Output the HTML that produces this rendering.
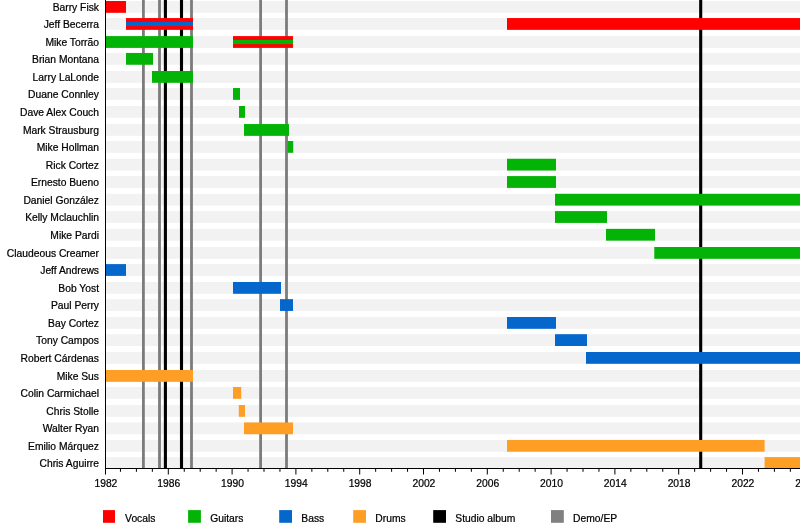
<!DOCTYPE html><html><head><meta charset="utf-8"><style>html,body{margin:0;padding:0;background:#fff}svg{display:block;will-change:transform}text{font-family:"Liberation Sans",sans-serif;fill:#000;stroke:#000;stroke-width:0.22px}</style></head><body>
<svg width="800" height="528" viewBox="0 0 800 528">
<rect width="800" height="528" fill="#fff"/>
<rect x="106" y="1.00" width="694" height="11.8" fill="#f2f2f2"/>
<rect x="106" y="18.05" width="694" height="11.8" fill="#f2f2f2"/>
<rect x="106" y="36.10" width="694" height="11.8" fill="#f2f2f2"/>
<rect x="106" y="52.95" width="694" height="11.8" fill="#f2f2f2"/>
<rect x="106" y="71.00" width="694" height="11.8" fill="#f2f2f2"/>
<rect x="106" y="88.05" width="694" height="11.8" fill="#f2f2f2"/>
<rect x="106" y="106.00" width="694" height="11.8" fill="#f2f2f2"/>
<rect x="106" y="124.05" width="694" height="11.8" fill="#f2f2f2"/>
<rect x="106" y="141.00" width="694" height="11.8" fill="#f2f2f2"/>
<rect x="106" y="158.75" width="694" height="11.8" fill="#f2f2f2"/>
<rect x="106" y="176.10" width="694" height="11.8" fill="#f2f2f2"/>
<rect x="106" y="193.80" width="694" height="11.8" fill="#f2f2f2"/>
<rect x="106" y="211.10" width="694" height="11.8" fill="#f2f2f2"/>
<rect x="106" y="228.85" width="694" height="11.8" fill="#f2f2f2"/>
<rect x="106" y="247.00" width="694" height="11.8" fill="#f2f2f2"/>
<rect x="106" y="264.10" width="694" height="11.8" fill="#f2f2f2"/>
<rect x="106" y="282.00" width="694" height="11.8" fill="#f2f2f2"/>
<rect x="106" y="299.15" width="694" height="11.8" fill="#f2f2f2"/>
<rect x="106" y="317.00" width="694" height="11.8" fill="#f2f2f2"/>
<rect x="106" y="334.20" width="694" height="11.8" fill="#f2f2f2"/>
<rect x="106" y="352.00" width="694" height="11.8" fill="#f2f2f2"/>
<rect x="106" y="370.00" width="694" height="11.8" fill="#f2f2f2"/>
<rect x="106" y="387.00" width="694" height="11.8" fill="#f2f2f2"/>
<rect x="106" y="405.00" width="694" height="11.8" fill="#f2f2f2"/>
<rect x="106" y="422.45" width="694" height="11.8" fill="#f2f2f2"/>
<rect x="106" y="439.95" width="694" height="11.8" fill="#f2f2f2"/>
<rect x="106" y="457.10" width="694" height="11.8" fill="#f2f2f2"/>
<rect x="142.00" y="0" width="2.8" height="468.5" fill="#7c7c7c"/>
<rect x="158.10" y="0" width="2.8" height="468.5" fill="#7c7c7c"/>
<rect x="163.85" y="0" width="3.1" height="468.5" fill="#000"/>
<rect x="179.95" y="0" width="3.1" height="468.5" fill="#000"/>
<rect x="190.10" y="0" width="2.8" height="468.5" fill="#7c7c7c"/>
<rect x="259.20" y="0" width="2.8" height="468.5" fill="#7c7c7c"/>
<rect x="285.10" y="0" width="2.8" height="468.5" fill="#7c7c7c"/>
<rect x="699.15" y="0" width="3.1" height="468.5" fill="#000"/>
<rect x="106" y="1.00" width="20.00" height="11.8" fill="#ff0000"/>
<rect x="126" y="18.05" width="67.00" height="11.8" fill="#ff0000"/>
<rect x="126" y="21.85" width="67.00" height="4.2" fill="#0566cc"/>
<rect x="507" y="18.05" width="293.00" height="11.8" fill="#ff0000"/>
<rect x="106" y="36.10" width="87.00" height="11.8" fill="#03b305"/>
<rect x="233" y="36.10" width="60.00" height="11.8" fill="#ff0000"/>
<rect x="233" y="39.90" width="60.00" height="4.2" fill="#03b305"/>
<rect x="126" y="52.95" width="27.00" height="11.8" fill="#03b305"/>
<rect x="152" y="71.00" width="41.00" height="11.8" fill="#03b305"/>
<rect x="233" y="88.05" width="7.00" height="11.8" fill="#03b305"/>
<rect x="239" y="106.00" width="6.00" height="11.8" fill="#03b305"/>
<rect x="244" y="124.05" width="45.00" height="11.8" fill="#03b305"/>
<rect x="287.5" y="141.00" width="5.70" height="11.8" fill="#03b305"/>
<rect x="507" y="158.75" width="49.00" height="11.8" fill="#03b305"/>
<rect x="507" y="176.10" width="49.00" height="11.8" fill="#03b305"/>
<rect x="555" y="193.80" width="245.00" height="11.8" fill="#03b305"/>
<rect x="555" y="211.10" width="52.00" height="11.8" fill="#03b305"/>
<rect x="606" y="228.85" width="49.00" height="11.8" fill="#03b305"/>
<rect x="654.3" y="247.00" width="145.70" height="11.8" fill="#03b305"/>
<rect x="106" y="264.10" width="20.00" height="11.8" fill="#0566cc"/>
<rect x="233" y="282.00" width="48.00" height="11.8" fill="#0566cc"/>
<rect x="280" y="299.15" width="13.00" height="11.8" fill="#0566cc"/>
<rect x="507" y="317.00" width="49.00" height="11.8" fill="#0566cc"/>
<rect x="555" y="334.20" width="32.00" height="11.8" fill="#0566cc"/>
<rect x="586" y="352.00" width="214.00" height="11.8" fill="#0566cc"/>
<rect x="106" y="370.00" width="87.00" height="11.8" fill="#ff9e24"/>
<rect x="233" y="387.00" width="8.20" height="11.8" fill="#ff9e24"/>
<rect x="238.8" y="405.00" width="6.20" height="11.8" fill="#ff9e24"/>
<rect x="244" y="422.45" width="49.00" height="11.8" fill="#ff9e24"/>
<rect x="507" y="439.95" width="257.60" height="11.8" fill="#ff9e24"/>
<rect x="764.6" y="457.10" width="35.40" height="11.8" fill="#ff9e24"/>
<rect x="105" y="0" width="1" height="469" fill="#000"/>
<rect x="105" y="468" width="695" height="1" fill="#000"/>
<rect x="105.00" y="468" width="1" height="6.5" fill="#000"/>
<text x="105.90" y="487" font-size="10.3" text-anchor="middle">1982</text>
<rect x="119.95" y="468" width="1" height="3.8" fill="#000"/>
<rect x="135.90" y="468" width="1" height="3.8" fill="#000"/>
<rect x="151.85" y="468" width="1" height="3.8" fill="#000"/>
<rect x="167.80" y="468" width="1" height="6.5" fill="#000"/>
<text x="168.70" y="487" font-size="10.3" text-anchor="middle">1986</text>
<rect x="183.75" y="468" width="1" height="3.8" fill="#000"/>
<rect x="199.70" y="468" width="1" height="3.8" fill="#000"/>
<rect x="215.65" y="468" width="1" height="3.8" fill="#000"/>
<rect x="231.60" y="468" width="1" height="6.5" fill="#000"/>
<text x="232.50" y="487" font-size="10.3" text-anchor="middle">1990</text>
<rect x="247.55" y="468" width="1" height="3.8" fill="#000"/>
<rect x="263.50" y="468" width="1" height="3.8" fill="#000"/>
<rect x="279.45" y="468" width="1" height="3.8" fill="#000"/>
<rect x="295.40" y="468" width="1" height="6.5" fill="#000"/>
<text x="296.30" y="487" font-size="10.3" text-anchor="middle">1994</text>
<rect x="311.35" y="468" width="1" height="3.8" fill="#000"/>
<rect x="327.30" y="468" width="1" height="3.8" fill="#000"/>
<rect x="343.25" y="468" width="1" height="3.8" fill="#000"/>
<rect x="359.20" y="468" width="1" height="6.5" fill="#000"/>
<text x="360.10" y="487" font-size="10.3" text-anchor="middle">1998</text>
<rect x="375.15" y="468" width="1" height="3.8" fill="#000"/>
<rect x="391.10" y="468" width="1" height="3.8" fill="#000"/>
<rect x="407.05" y="468" width="1" height="3.8" fill="#000"/>
<rect x="423.00" y="468" width="1" height="6.5" fill="#000"/>
<text x="423.90" y="487" font-size="10.3" text-anchor="middle">2002</text>
<rect x="438.95" y="468" width="1" height="3.8" fill="#000"/>
<rect x="454.90" y="468" width="1" height="3.8" fill="#000"/>
<rect x="470.85" y="468" width="1" height="3.8" fill="#000"/>
<rect x="486.80" y="468" width="1" height="6.5" fill="#000"/>
<text x="487.70" y="487" font-size="10.3" text-anchor="middle">2006</text>
<rect x="502.75" y="468" width="1" height="3.8" fill="#000"/>
<rect x="518.70" y="468" width="1" height="3.8" fill="#000"/>
<rect x="534.65" y="468" width="1" height="3.8" fill="#000"/>
<rect x="550.60" y="468" width="1" height="6.5" fill="#000"/>
<text x="551.50" y="487" font-size="10.3" text-anchor="middle">2010</text>
<rect x="566.55" y="468" width="1" height="3.8" fill="#000"/>
<rect x="582.50" y="468" width="1" height="3.8" fill="#000"/>
<rect x="598.45" y="468" width="1" height="3.8" fill="#000"/>
<rect x="614.40" y="468" width="1" height="6.5" fill="#000"/>
<text x="615.30" y="487" font-size="10.3" text-anchor="middle">2014</text>
<rect x="630.35" y="468" width="1" height="3.8" fill="#000"/>
<rect x="646.30" y="468" width="1" height="3.8" fill="#000"/>
<rect x="662.25" y="468" width="1" height="3.8" fill="#000"/>
<rect x="678.20" y="468" width="1" height="6.5" fill="#000"/>
<text x="679.10" y="487" font-size="10.3" text-anchor="middle">2018</text>
<rect x="694.15" y="468" width="1" height="3.8" fill="#000"/>
<rect x="710.10" y="468" width="1" height="3.8" fill="#000"/>
<rect x="726.05" y="468" width="1" height="3.8" fill="#000"/>
<rect x="742.00" y="468" width="1" height="6.5" fill="#000"/>
<text x="742.90" y="487" font-size="10.3" text-anchor="middle">2022</text>
<rect x="757.95" y="468" width="1" height="3.8" fill="#000"/>
<rect x="773.90" y="468" width="1" height="3.8" fill="#000"/>
<rect x="789.85" y="468" width="1" height="3.8" fill="#000"/>
<rect x="805.80" y="468" width="1" height="6.5" fill="#000"/>
<text x="806.70" y="487" font-size="10.3" text-anchor="middle">2026</text>
<text x="99.0" y="10.90" font-size="10.3" text-anchor="end">Barry Fisk</text>
<text x="99.0" y="27.95" font-size="10.3" text-anchor="end">Jeff Becerra</text>
<text x="99.0" y="46.00" font-size="10.3" text-anchor="end">Mike Torrão</text>
<text x="99.0" y="62.85" font-size="10.3" text-anchor="end">Brian Montana</text>
<text x="99.0" y="80.90" font-size="10.3" text-anchor="end">Larry LaLonde</text>
<text x="99.0" y="97.95" font-size="10.3" text-anchor="end">Duane Connley</text>
<text x="99.0" y="115.90" font-size="10.3" text-anchor="end">Dave Alex Couch</text>
<text x="99.0" y="133.95" font-size="10.3" text-anchor="end">Mark Strausburg</text>
<text x="99.0" y="150.90" font-size="10.3" text-anchor="end">Mike Hollman</text>
<text x="99.0" y="168.65" font-size="10.3" text-anchor="end">Rick Cortez</text>
<text x="99.0" y="186.00" font-size="10.3" text-anchor="end">Ernesto Bueno</text>
<text x="99.0" y="203.70" font-size="10.3" text-anchor="end">Daniel González</text>
<text x="99.0" y="221.00" font-size="10.3" text-anchor="end">Kelly Mclauchlin</text>
<text x="99.0" y="238.75" font-size="10.3" text-anchor="end">Mike Pardi</text>
<text x="99.0" y="256.90" font-size="10.3" text-anchor="end">Claudeous Creamer</text>
<text x="99.0" y="274.00" font-size="10.3" text-anchor="end">Jeff Andrews</text>
<text x="99.0" y="291.90" font-size="10.3" text-anchor="end">Bob Yost</text>
<text x="99.0" y="309.05" font-size="10.3" text-anchor="end">Paul Perry</text>
<text x="99.0" y="326.90" font-size="10.3" text-anchor="end">Bay Cortez</text>
<text x="99.0" y="344.10" font-size="10.3" text-anchor="end">Tony Campos</text>
<text x="99.0" y="361.90" font-size="10.3" text-anchor="end">Robert Cárdenas</text>
<text x="99.0" y="379.90" font-size="10.3" text-anchor="end">Mike Sus</text>
<text x="99.0" y="396.90" font-size="10.3" text-anchor="end">Colin Carmichael</text>
<text x="99.0" y="414.90" font-size="10.3" text-anchor="end">Chris Stolle</text>
<text x="99.0" y="432.35" font-size="10.3" text-anchor="end">Walter Ryan</text>
<text x="99.0" y="449.85" font-size="10.3" text-anchor="end">Emilio Márquez</text>
<text x="99.0" y="467.00" font-size="10.3" text-anchor="end">Chris Aguirre</text>
<rect x="103" y="510.1" width="12" height="12.7" fill="#ff0000"/>
<text x="125.10" y="522" font-size="10.3">Vocals</text>
<rect x="188.1" y="510.1" width="12.8" height="12.7" fill="#03b305"/>
<text x="210.20" y="522" font-size="10.3">Guitars</text>
<rect x="279.2" y="510.1" width="12.8" height="12.7" fill="#0566cc"/>
<text x="301.30" y="522" font-size="10.3">Bass</text>
<rect x="353.2" y="510.1" width="12.8" height="12.7" fill="#ff9e24"/>
<text x="375.30" y="522" font-size="10.3">Drums</text>
<rect x="433.2" y="510.1" width="12.8" height="12.7" fill="#000"/>
<text x="455.30" y="522" font-size="10.3">Studio album</text>
<rect x="551" y="510.1" width="12.8" height="12.7" fill="#808080"/>
<text x="573.10" y="522" font-size="10.3">Demo/EP</text>
</svg></body></html>
